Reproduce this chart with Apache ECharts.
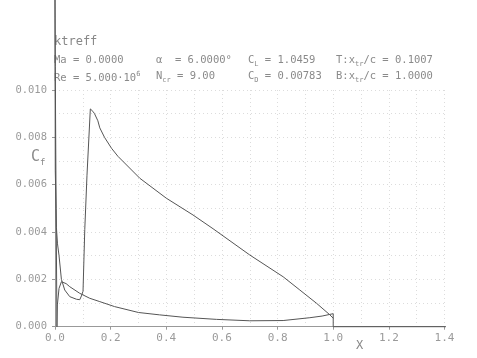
<!DOCTYPE html>
<html><head><meta charset="utf-8">
<script src="https://cdn.jsdelivr.net/npm/echarts@6/dist/echarts.min.js"></script>
<style>html,body{margin:0;padding:0;background:#fff}#c{width:477px;height:358px}</style>
</head><body><div id="c"></div>
<script>
// Upper surface Cf vs x/c
var upperX  = [0.007,0.004,0.001,0.000,0.001,0.005,0.009,0.0145,0.023,0.035,0.053,0.077,0.089,0.095,0.1007,0.107,0.115,0.127,0.136,0.142,0.154,0.161,0.178,0.203,0.226,0.305,0.40,0.496,0.568,0.70,0.82,0.88,0.94,0.988,1.0];
var upperCf = [0.0000,0.0050,0.0110,0.0140,0.0066,0.0042,0.0035,0.0030,0.0020,0.00155,0.00127,0.00116,0.00114,0.00130,0.00150,0.0041,0.0064,0.0092,0.0091,0.0090,0.0087,0.0084,0.0080,0.00754,0.0072,0.00627,0.00543,0.00472,0.00414,0.00303,0.00211,0.00155,0.00099,0.0005,0.00036];
// Lower surface Cf vs x/c
var lowerX  = [0.007,0.0085,0.0145,0.023,0.029,0.040,0.053,0.089,0.125,0.161,0.214,0.30,0.376,0.46,0.58,0.70,0.82,0.916,0.96,1.0];
var lowerCf = [0.0,0.00092,0.00162,0.0019,0.00193,0.00182,0.00169,0.00141,0.0012,0.00106,0.00085,0.00060,0.00050,0.00040,0.00031,0.00025,0.00026,0.00038,0.00045,0.00055];
// Wake
var wakeX  = [1.0,1.0,1.5];
var wakeCf = [0.00055,0.0,0.0];

var xTickLabels = ['0.0','0.2','0.4','0.6','0.8','1.0','1.2','1.4'];
var yTickLabels = ['0.000','0.002','0.004','0.006','0.008','0.010'];

function pairs(xs, ys){ return xs.map(function(x,i){return [x, ys[i]];}); }

var chart = echarts.init(document.getElementById('c'), null, {renderer:'canvas'});
var mono = 'DejaVu Sans Mono';
var txtCol = '#8a8a8a';
var sub = {fontSize:7, fontFamily:mono, fill:txtCol, verticalAlign:'bottom', lineHeight:14};
var sup = {fontSize:7, fontFamily:mono, fill:txtCol, verticalAlign:'top', lineHeight:14};
var m = {fontSize:10.5, fontFamily:mono, fill:txtCol, lineHeight:14};
var rich = {m:m, s:sub, p:sup};
function t(x, y, text, size){
  return {type:'text', left:x, top:y, silent:true,
    style:{text:text, rich:rich, fontFamily:mono, fontSize:size||10.5, fill:txtCol}};
}
var lineStyle = {color:'#555', width:1};
function ser(xs, ys){
  return {type:'line', data:pairs(xs, ys), showSymbol:false, symbol:'none', clip:false,
    lineStyle:lineStyle, animation:false};
}
chart.setOption({
  animation:false,
  grid:{left:55, top:90, width:389.5, height:236.7, containLabel:false},
  xAxis:{type:'value', min:0, max:1.4, interval:0.2,
    axisLine:{show:true, onZero:false, lineStyle:{color:'#999', width:1}},
    axisTick:{show:true, length:3, lineStyle:{color:'#999'}},
    axisLabel:{margin:6, color:'#9a9a9a', fontFamily:mono, fontSize:11,
      formatter:function(v){ return xTickLabels[Math.round(v/0.2)]; }},
    splitLine:{show:true, lineStyle:{color:'#dcdcdc', type:[1,3]}},
    minorTick:{show:false, splitNumber:2},
    minorSplitLine:{show:true, lineStyle:{color:'#dcdcdc', type:[1,3]}}
  },
  yAxis:{type:'value', min:0, max:0.010, interval:0.002,
    axisLine:{show:true, onZero:false, lineStyle:{color:'#999', width:1}},
    axisTick:{show:true, length:3, lineStyle:{color:'#999'}},
    axisLabel:{margin:8, color:'#9a9a9a', fontFamily:mono, fontSize:10.5,
      formatter:function(v){ return yTickLabels[Math.round(v/0.002)]; }},
    splitLine:{show:true, lineStyle:{color:'#dcdcdc', type:[1,3]}},
    minorTick:{show:false, splitNumber:2},
    minorSplitLine:{show:true, lineStyle:{color:'#dcdcdc', type:[1,3]}}
  },
  series:[ser(upperX, upperCf), ser(lowerX, lowerCf), ser(wakeX, wakeCf)],
  graphic:[
    {type:'text', left:54, top:36, silent:true, style:{text:'ktreff', fontFamily:mono, fontSize:12, fill:'#888'}},
    t(54, 55, '{m|Ma = 0.0000}'),
    t(156, 55, '{m|α  = 6.0000°}'),
    t(248, 55, '{m|C}{s|L}{m| = 1.0459}'),
    t(336, 55, '{m|T:x}{s|tr}{m|/c = 0.1007}'),
    t(54, 71, '{m|Re = 5.000·10}{p|6}'),
    t(156, 71, '{m|N}{s|cr}{m| = 9.00}'),
    t(248, 71, '{m|C}{s|D}{m| = 0.00783}'),
    t(336, 71, '{m|B:x}{s|tr}{m|/c = 1.0000}'),
    {type:'text', left:31, top:150, silent:true, style:{text:'{c|C}{f|f}', fill:'#8a8a8a', rich:{
      c:{fontSize:15, fontFamily:mono, fill:'#8a8a8a', lineHeight:20, verticalAlign:'middle'},
      f:{fontSize:9, fontFamily:mono, fill:'#8a8a8a', lineHeight:20, verticalAlign:'bottom'}}}},
    {type:'text', left:356, top:340, silent:true, style:{text:'X', fontFamily:mono, fontSize:12, fill:'#888'}}
  ]
});
</script></body></html>
